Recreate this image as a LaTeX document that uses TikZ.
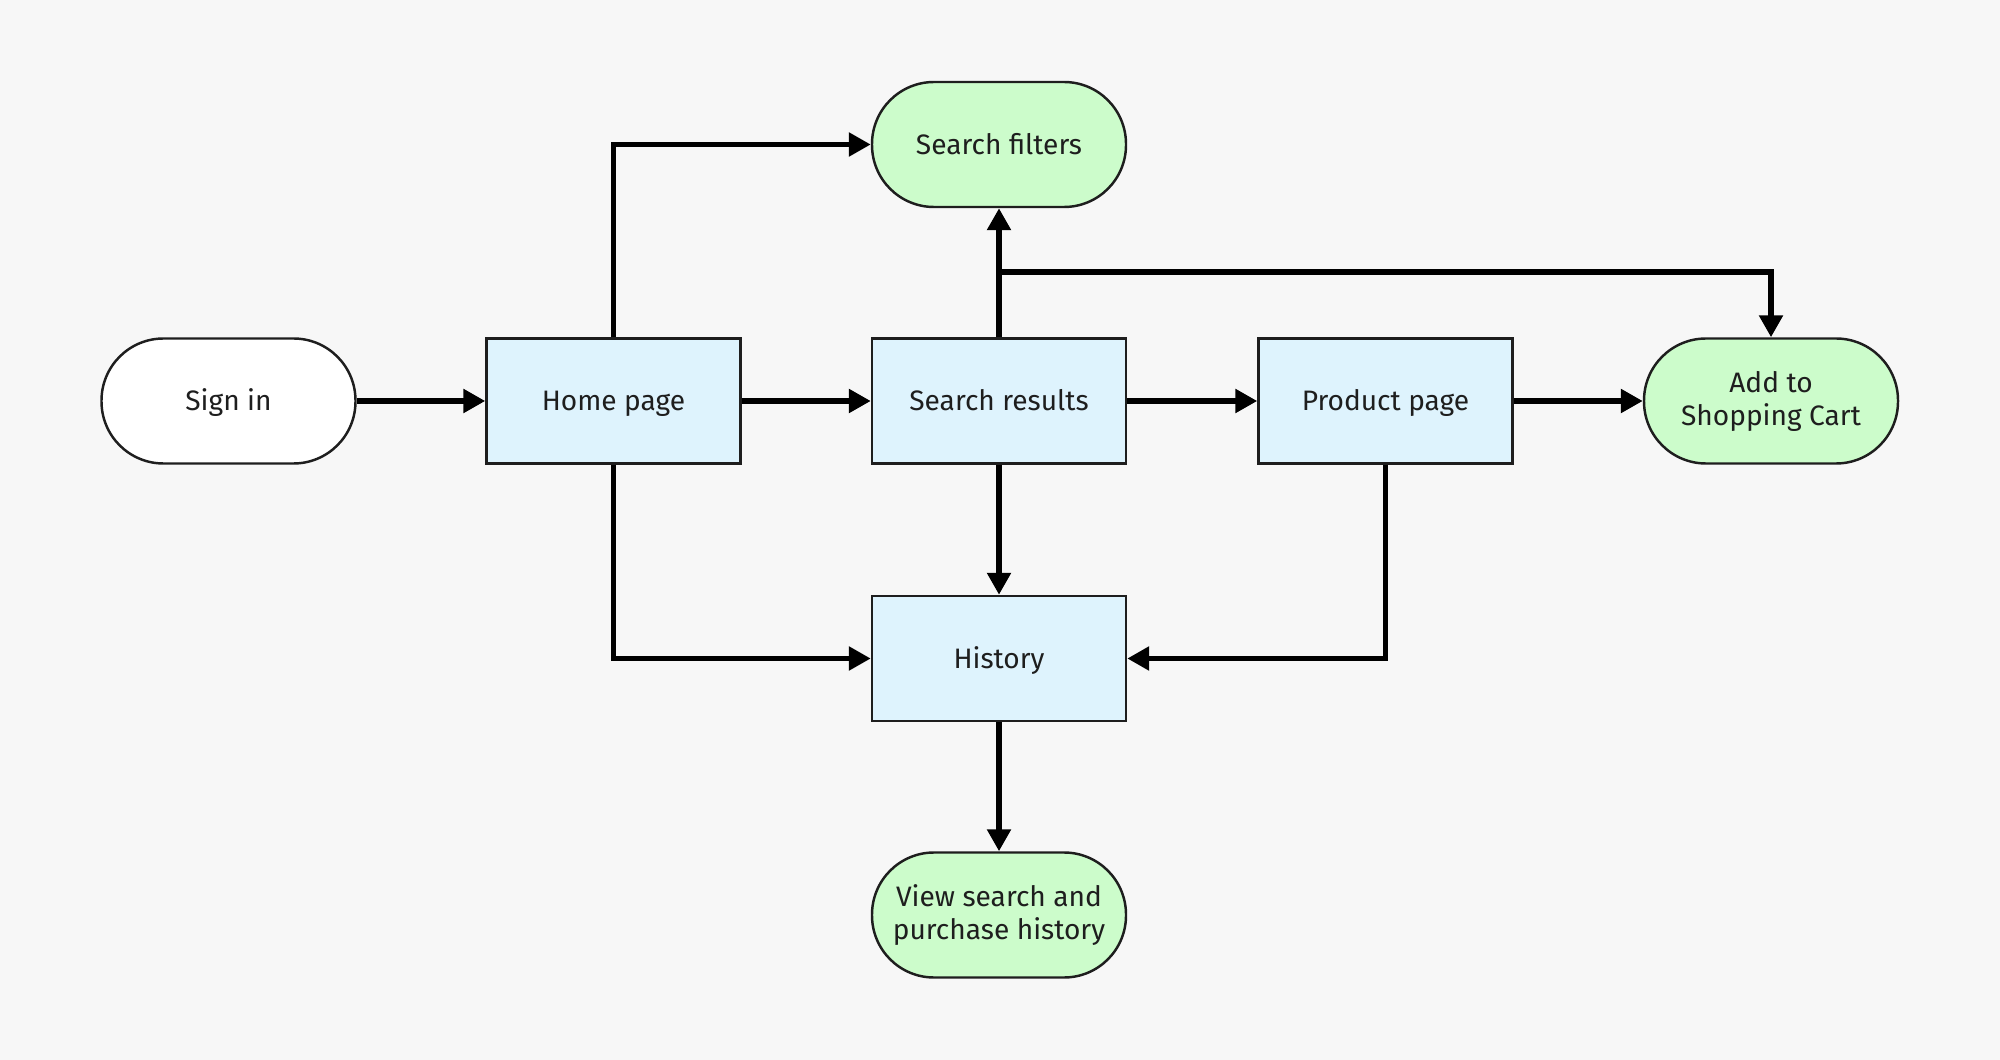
\documentclass[tikz,border=0pt]{standalone}
\usepackage{fontspec}
\setmainfont{Fira Sans}
\usetikzlibrary{arrows.meta}
\definecolor{bg}{HTML}{F7F7F7}
\definecolor{bluefill}{HTML}{DEF3FD}
\definecolor{greenfill}{HTML}{CCFCCB}
\definecolor{ink}{HTML}{1E1E1E}
\begin{document}
\begin{tikzpicture}[
  base/.style={draw=ink, line width=0.7pt, minimum width=2.54cm, minimum height=1.25cm,
    inner sep=0pt, align=center, text=ink, font=\fontsize{8}{9.4}\selectfont},
  oneline/.style={text height=1.45ex, text depth=0.4ex},
  pagebox/.style={base, fill=bluefill, oneline},
  termstart/.style={base, fill=white, rounded corners=0.62cm, oneline},
  termend/.style={base, fill=greenfill, rounded corners=0.62cm},
  conn/.style={line width=1.6pt, black, -{Triangle[length=0.22cm,width=0.23cm]}}
]
\fill[bg] (0,0) rectangle (20,-10.6);
\useasboundingbox (0,0) rectangle (20,-10.6);

\node[termstart] (signin) at (2.285,-4.01) {Sign in};
\node[pagebox] (home) at (6.135,-4.01) {Home page};
\node[pagebox] (results) at (9.99,-4.01) {Search results};
\node[pagebox] (product) at (13.855,-4.01) {Product page};
\node[termend] (cart) at (17.71,-4.01) {Add to\\Shopping Cart};
\node[termend, oneline] (filters) at (9.99,-1.445) {Search filters};
\node[pagebox] (history) at (9.99,-6.585) {History};
\node[termend] (view) at (9.99,-9.15) {View search and\\purchase history};

\coordinate (branch) at (9.99,-2.72);

\draw[conn] (signin) -- (home);
\draw[conn] (home) -- (results);
\draw[conn] (results) -- (product);
\draw[conn] (product) -- (cart);
\draw[conn] (home.north) |- (filters.west);
\draw[conn] (results.north) -- (filters.south);
\draw[conn] (branch) -| (cart.north);
\draw[conn] (results.south) -- (history.north);
\draw[conn] (home.south) |- (history.west);
\draw[conn] (product.south) |- (history.east);
\draw[conn] (history.south) -- (view.north);
\end{tikzpicture}
\end{document}
